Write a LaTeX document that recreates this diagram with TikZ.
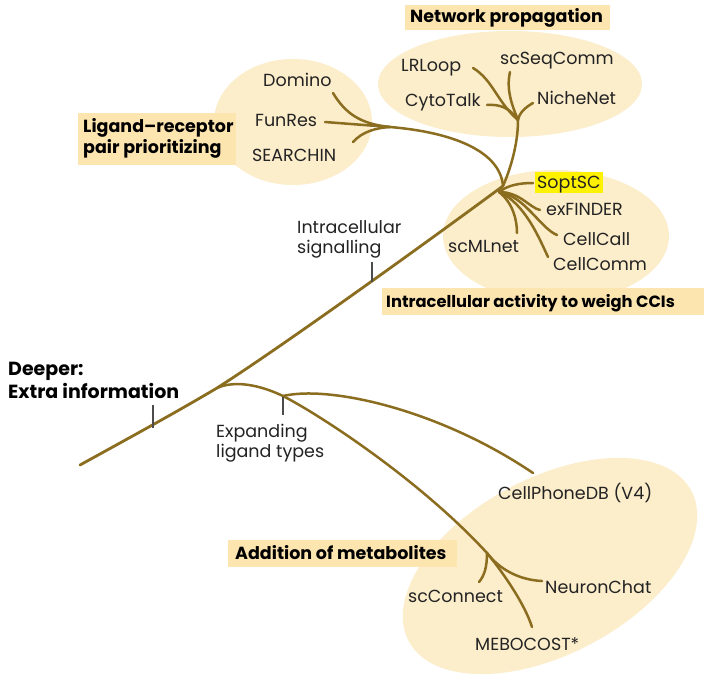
\documentclass[tikz,border=0pt]{standalone}
\usepackage{fontspec}
\setmainfont{Poppins}
\definecolor{ell}{RGB}{252,237,203}
\definecolor{hbox}{RGB}{253,229,176}
\definecolor{branch}{RGB}{139,109,32}
\definecolor{txt}{RGB}{35,35,35}
\definecolor{hl}{RGB}{255,242,0}
\begin{document}
\begin{tikzpicture}[x=1pt,y=-1pt,
  br/.style={draw=branch, line width=2.5pt, line cap=round},
  trunk/.style={draw=branch, line width=2.8pt, line cap=round},
  tickmark/.style={draw=black!70, line width=1.1pt},
  lab/.style={font=\fontsize{17.5}{20}\selectfont, text=txt, inner sep=0pt, anchor=base west, align=left},
  head/.style={font=\bfseries\fontsize{17.5}{21}\selectfont, text=black, inner sep=0pt, anchor=base west, align=left},
  bighead/.style={font=\bfseries\fontsize{19}{23}\selectfont, text=black, inner sep=0pt, anchor=base west, align=left},
]
\useasboundingbox (0,0) rectangle (714,679);
\fill[white] (0,0) rectangle (714,679);
% ellipses
\fill[ell] (293,122) ellipse [x radius=79, y radius=63];
\fill[ell] (510,84) ellipse [x radius=132, y radius=53];
\fill[ell] (556,236) ellipse [x radius=113, y radius=66];
\fill[ell, rotate around={28:(550,566)}] (550,566) ellipse [x radius=160, y radius=88];
% heading boxes
\fill[hbox] (405,5) rectangle (610,30);
\fill[hbox] (78,113) rectangle (236,165);
\fill[hbox] (382,288) rectangle (704,315);
\fill[hbox] (228,540) rectangle (457,567);
\fill[hl] (535,172) rectangle (603,193);
% coordinates
\coordinate (start) at (80,465);
\coordinate (J1) at (217,388);
\coordinate (J2) at (503,186);
\coordinate (Jint) at (499,192);
\coordinate (Jtop) at (518,120);
\coordinate (Jleft) at (390,127);
\coordinate (J3) at (283,396);
\coordinate (J4) at (487,553);
% ends
\coordinate (eDomino) at (333,93);
\coordinate (eFunRes) at (325,122);
\coordinate (eSearch) at (353,142);
\coordinate (eLRLoop) at (473,68);
\coordinate (eCyto) at (487,105);
\coordinate (eSeq) at (510,72);
\coordinate (eNiche) at (533,103);
\coordinate (eSopt) at (533,183);
\coordinate (eExF) at (540,210);
\coordinate (eCall) at (557,235);
\coordinate (eComm) at (548,257);
\coordinate (eML) at (517,233);
\coordinate (eCPDB) at (533,473);
\coordinate (eMEBO) at (532,627);
\coordinate (eNeuron) at (542,581);
\coordinate (eConn) at (479,582);
% trunk
\draw[trunk] (start) .. controls (140,432) and (180,410) .. (J1)
  .. controls (280,348) and (430,240) .. (J2);
% left branch
\draw[br] (J2) .. controls (500,150) and (450,132) .. (Jleft);
\draw[br] (Jleft) -- (eFunRes);
\draw[br] (eDomino) .. controls (345,113) and (360,124) .. (Jleft);
\draw[br] (eSearch) .. controls (362,132) and (375,128) .. (Jleft);
% top stem
\draw[br] (J2) .. controls (510,170) and (518,145) .. (Jtop);
\draw[br] (eLRLoop) .. controls (493,80) and (497,102) .. (Jtop);
\draw[br] (eCyto) .. controls (500,104) and (510,108) .. (Jtop);
\draw[br] (eSeq) .. controls (506,90) and (512,105) .. (Jtop);
\draw[br] (eNiche) .. controls (524,108) and (519,114) .. (Jtop);
% intracellular fan
\draw[br] (Jint) .. controls (508,185) and (520,183) .. (eSopt);
\draw[br] (Jint) .. controls (520,192) and (530,208) .. (eExF);
\draw[br] (Jint) .. controls (525,196) and (540,228) .. (eCall);
\draw[br] (Jint) .. controls (525,203) and (540,240) .. (eComm);
\draw[br] (Jint) .. controls (513,203) and (517,220) .. (eML);
% bottom branch
\draw[br] (J1) .. controls (235,380) and (260,385) .. (J3);
\draw[br] (J3) .. controls (330,385) and (440,410) .. (eCPDB);
\draw[br] (J3) .. controls (320,415) and (420,480) .. (J4);
\draw[br] (J4) .. controls (505,575) and (525,605) .. (eMEBO);
\draw[br] (J4) .. controls (500,570) and (520,580) .. (eNeuron);
\draw[br] (J4) .. controls (487,568) and (484,576) .. (eConn);
% ticks
\coordinate (t1a) at (153,405); \coordinate (t1b) at (153,428);
\coordinate (t2a) at (372,262); \coordinate (t2b) at (372,282);
\coordinate (t3a) at (283,397); \coordinate (t3b) at (283,415);
\draw[tickmark] (t1a) -- (t1b);
\draw[tickmark] (t2a) -- (t2b);
\draw[tickmark] (t3a) -- (t3b);
% labels
\node[lab] (domino) at (263,87) {Domino};
\node[lab] (funres) at (255,127) {FunRes};
\node[lab] (searchin) at (252,162) {SEARCHIN};
\node[lab] (lrloop) at (401,72) {LRLoop};
\node[lab] (scseq) at (500,65) {scSeqComm};
\node[lab] (cyto) at (405,107) {CytoTalk};
\node[lab] (niche) at (537,105) {NicheNet};
\node[lab] (sopt) at (537,188) {SoptSC};
\node[lab] (exf) at (546,215) {exFINDER};
\node[lab] (call) at (563,245) {CellCall};
\node[lab] (comm) at (553,270) {CellComm};
\node[lab] (scml) at (448,252) {scMLnet};
\node[lab] (cpdb) at (498,499) {CellPhoneDB (V4)};
\node[lab] (conn) at (408,602) {scConnect};
\node[lab] (neuron) at (545,593) {NeuronChat};
\node[lab] (mebo) at (475,650) {MEBOCOST*};
\node[lab] (isig) at (297,253) {Intracellular\\signalling};
\node[lab] (expand) at (216,457) {Expanding\\ligand types};
\node[bighead] (deeper) at (8,398) {Deeper:\\Extra information};
\node[head] (hnet) at (410,23) {Network propagation};
\node[head] (hlig) at (83,154) {Ligand–receptor\\pair prioritizing};
\node[head, font=\bfseries\fontsize{16.3}{20}\selectfont] (hint) at (386,307) {Intracellular activity to weigh CCIs};
\node[head] (hmet) at (235,559) {Addition of metabolites};
\end{tikzpicture}
\end{document}
